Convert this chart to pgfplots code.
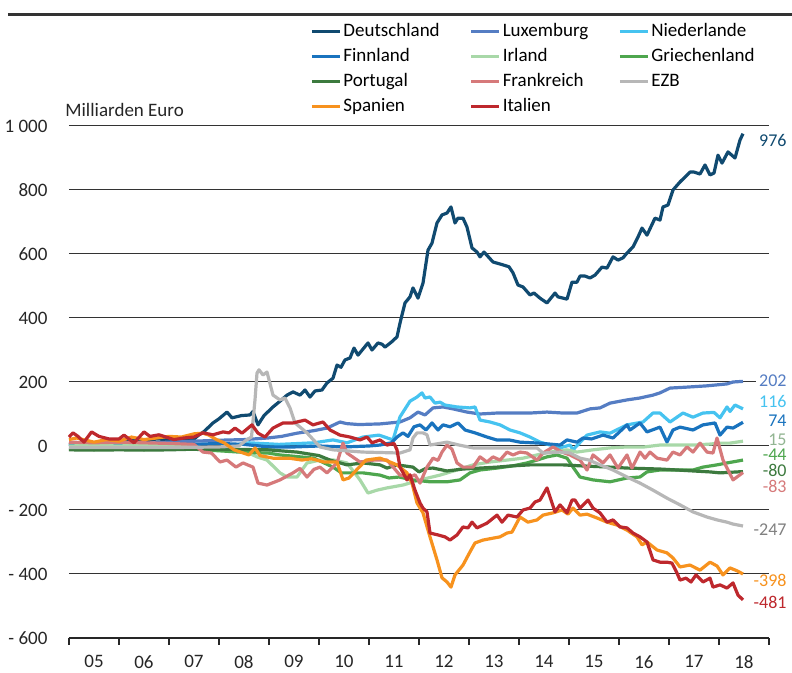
\documentclass[border=0pt]{standalone}
\usepackage{pgfplots}
\pgfplotsset{compat=1.18}
\usepackage{fontspec}
\setmainfont{Carlito}
\definecolor{cde}{RGB}{16,74,112}
\definecolor{clu}{RGB}{85,125,195}
\definecolor{cnl}{RGB}{70,195,240}
\definecolor{cfi}{RGB}{25,115,190}
\definecolor{cie}{RGB}{168,216,168}
\definecolor{cgr}{RGB}{78,166,78}
\definecolor{cpt}{RGB}{60,122,62}
\definecolor{cfr}{RGB}{214,121,122}
\definecolor{cez}{RGB}{183,183,183}
\definecolor{ces}{RGB}{247,146,30}
\definecolor{cit}{RGB}{190,40,45}
\begin{document}
\begin{tikzpicture}
\useasboundingbox (-34.5pt,-17.5pt) rectangle (361.5pt,319pt);
\begin{axis}[
  at={(0,0)}, anchor=south west,
  scale only axis, width=350pt, height=256pt,
  xmin=2005, xmax=2019, ymin=-600, ymax=1000,
  axis x line=bottom, axis y line=left,
  x axis line style={-, black!85, line width=0.6pt},
  y axis line style={draw=none},
  xtick={2005.5,2006.5,...,2018.5},
  xticklabels={05,06,07,08,09,10,11,12,13,14,15,16,17,18},
  major x tick style={draw=none},
  minor xtick={2005,2006,...,2019},
  minor x tick style={black!85, line width=0.6pt},
  minor tick length=3.5pt, tick align=outside,
  ytick={-600,-400,...,1000},
  yticklabels={- 600,- 400,- 200,0,200,400,600,800,1 000},
  ytick style={draw=none},
  ymajorgrids, grid style={black!80, line width=0.5pt},
  tick label style={font=\fontsize{9.5}{11}\selectfont, text=black!85},
  yticklabel style={xshift=-3pt},
  xticklabel style={yshift=-1pt},
  clip=false,
  legend columns=3,
  legend cell align=left,
  legend image code/.code={\draw[#1, line width=1.5pt] (0pt,0pt) -- (14pt,0pt);},
  legend style={at={(0.3357,1.218)}, anchor=north west, draw=none, fill=none,
    font=\fontsize{9.5}{11}\selectfont,
    /tikz/every even column/.append style={column sep=14pt},
    nodes={inner xsep=1pt, inner ysep=1.75pt, text height=7pt, text depth=2pt}},
  every axis plot/.append style={line width=1.6pt, line join=round},
]
\addplot[cde] coordinates {(2005.0,5)(2005.25,10)(2005.5,8)(2005.75,15)(2006.0,10)(2006.25,18)(2006.5,15)(2006.75,22)(2007.0,20)(2007.25,22)(2007.48,19)(2007.6,35)(2007.7,45)(2007.88,72)(2008.0,85)(2008.16,106)(2008.26,88)(2008.45,95)(2008.62,97)(2008.68,108)(2008.78,66)(2008.9,95)(2009.08,122)(2009.22,140)(2009.36,159)(2009.48,169)(2009.62,159)(2009.72,175)(2009.82,153)(2009.92,172)(2010.06,175)(2010.16,197)(2010.28,212)(2010.36,253)(2010.44,246)(2010.52,269)(2010.62,275)(2010.7,306)(2010.78,284)(2010.98,322)(2011.06,300)(2011.18,322)(2011.26,318)(2011.32,309)(2011.45,325)(2011.56,341)(2011.62,384)(2011.72,447)(2011.82,466)(2011.88,494)(2011.98,462)(2012.08,509)(2012.18,612)(2012.26,634)(2012.36,697)(2012.46,722)(2012.56,728)(2012.64,747)(2012.72,697)(2012.78,712)(2012.88,712)(2012.96,684)(2013.06,619)(2013.16,606)(2013.22,591)(2013.3,606)(2013.48,575)(2013.68,566)(2013.8,560)(2013.88,541)(2013.98,503)(2014.08,497)(2014.22,472)(2014.3,478)(2014.42,462)(2014.56,447)(2014.72,478)(2014.78,466)(2014.96,459)(2015.06,512)(2015.16,512)(2015.22,531)(2015.32,531)(2015.42,525)(2015.52,534)(2015.66,559)(2015.76,556)(2015.88,591)(2015.98,581)(2016.08,588)(2016.16,603)(2016.28,622)(2016.38,653)(2016.46,681)(2016.56,659)(2016.72,712)(2016.82,706)(2016.88,747)(2016.98,753)(2017.08,800)(2017.22,825)(2017.42,856)(2017.5,856)(2017.62,850)(2017.72,878)(2017.82,847)(2017.9,853)(2017.98,909)(2018.06,884)(2018.18,919)(2018.32,900)(2018.42,956)(2018.48,976)};
\addlegendentry{Deutschland}
\addplot[clu] coordinates {(2005.0,5)(2005.5,8)(2006.0,10)(2006.5,8)(2007.0,12)(2007.5,15)(2008.0,18)(2008.5,20)(2008.98,25)(2009.25,30)(2009.56,40)(2009.9,48)(2010.16,56)(2010.42,75)(2010.55,70)(2010.8,67)(2011.22,69)(2011.62,75)(2011.82,88)(2011.98,106)(2012.12,97)(2012.28,119)(2012.48,122)(2012.68,116)(2012.96,106)(2013.22,100)(2013.56,103)(2013.88,103)(2014.22,103)(2014.56,106)(2014.88,103)(2015.16,103)(2015.42,116)(2015.62,119)(2015.82,134)(2016.16,144)(2016.42,150)(2016.68,159)(2016.82,166)(2017.02,181)(2017.36,184)(2017.76,188)(2017.96,191)(2018.16,194)(2018.28,200)(2018.48,202)};
\addlegendentry{Luxemburg}
\addplot[cnl] coordinates {(2005.0,0)(2005.5,3)(2006.0,-2)(2006.5,2)(2007.0,0)(2007.4,-5)(2007.7,-12)(2008.0,-5)(2008.6,10)(2009.2,5)(2009.9,10)(2010.28,19)(2010.56,10)(2010.88,28)(2011.2,34)(2011.48,19)(2011.62,91)(2011.82,140)(2011.96,153)(2012.06,166)(2012.12,150)(2012.22,153)(2012.32,134)(2012.42,137)(2012.52,128)(2012.76,122)(2013.02,119)(2013.12,122)(2013.22,81)(2013.42,75)(2013.62,66)(2013.82,50)(2014.02,41)(2014.22,28)(2014.42,12)(2014.62,3)(2014.82,-6)(2015.02,3)(2015.08,-12)(2015.36,34)(2015.62,44)(2015.82,40)(2016.16,66)(2016.48,75)(2016.68,103)(2016.82,103)(2017.02,75)(2017.28,103)(2017.48,90)(2017.68,103)(2017.9,105)(2018.02,88)(2018.16,122)(2018.22,108)(2018.32,128)(2018.48,116)};
\addlegendentry{Niederlande}
\addplot[cfi] coordinates {(2005.0,5)(2005.5,3)(2006.0,8)(2006.5,5)(2007.0,3)(2007.5,5)(2008.0,8)(2008.5,5)(2009.0,-3)(2009.5,-3)(2010.0,0)(2010.5,-3)(2011.0,0)(2011.22,3)(2011.45,10)(2011.56,28)(2011.68,41)(2011.78,30)(2011.9,60)(2012.02,66)(2012.14,50)(2012.26,72)(2012.38,50)(2012.48,66)(2012.62,60)(2012.78,72)(2012.92,50)(2013.12,41)(2013.36,28)(2013.55,19)(2013.8,19)(2014.02,12)(2014.4,9)(2014.82,3)(2014.96,19)(2015.16,12)(2015.28,25)(2015.45,22)(2015.68,34)(2015.88,25)(2016.16,66)(2016.22,50)(2016.42,72)(2016.56,44)(2016.82,59)(2016.96,12)(2017.08,50)(2017.22,59)(2017.48,50)(2017.68,66)(2017.92,72)(2018.02,34)(2018.16,59)(2018.28,56)(2018.48,74)};
\addlegendentry{Finnland}
\addplot[cie] coordinates {(2005.0,0)(2005.5,2)(2006.0,0)(2006.5,3)(2007.0,0)(2007.5,-3)(2007.8,-10)(2008.2,-5)(2008.5,-15)(2008.76,-34)(2008.96,-44)(2009.22,-84)(2009.36,-97)(2009.56,-97)(2009.76,-53)(2010.02,-44)(2010.3,-44)(2010.56,-53)(2010.82,-106)(2010.98,-147)(2011.16,-138)(2011.36,-131)(2011.68,-122)(2012.02,-106)(2012.42,-91)(2012.76,-75)(2013.08,-59)(2013.42,-50)(2013.76,-44)(2014.08,-38)(2014.36,-28)(2014.62,-19)(2014.96,-12)(2015.16,-19)(2015.48,-12)(2015.82,-6)(2016.16,-3)(2016.5,-3)(2016.82,3)(2017.2,3)(2017.5,3)(2017.82,6)(2018.02,9)(2018.22,9)(2018.48,15)};
\addlegendentry{Irland}
\addplot[cgr] coordinates {(2005.0,-8)(2005.5,-10)(2006.0,-8)(2006.5,-10)(2007.0,-8)(2007.5,-10)(2008.0,-15)(2008.5,-20)(2008.98,-22)(2009.22,-28)(2009.9,-38)(2010.28,-66)(2010.45,-84)(2010.88,-84)(2011.22,-91)(2011.4,-100)(2011.6,-97)(2011.88,-106)(2012.22,-112)(2012.56,-112)(2012.82,-106)(2013.02,-84)(2013.22,-75)(2013.56,-69)(2013.88,-62)(2014.16,-53)(2014.36,-44)(2014.56,-34)(2014.76,-28)(2014.96,-38)(2015.08,-66)(2015.22,-97)(2015.48,-106)(2015.82,-112)(2016.16,-100)(2016.42,-97)(2016.56,-81)(2016.82,-75)(2017.16,-75)(2017.48,-75)(2017.68,-66)(2017.96,-59)(2018.16,-53)(2018.48,-44)};
\addlegendentry{Griechenland}
\addplot[cpt] coordinates {(2005.0,-12)(2005.5,-13)(2006.0,-12)(2006.5,-13)(2007.0,-12)(2007.5,-10)(2008.0,-10)(2008.98,-12)(2009.56,-19)(2010.0,-30)(2010.22,-44)(2010.56,-59)(2010.88,-53)(2011.22,-59)(2011.36,-69)(2011.56,-59)(2011.88,-66)(2012.0,-81)(2012.14,-70)(2012.28,-69)(2012.56,-78)(2012.88,-72)(2013.22,-69)(2013.56,-66)(2013.88,-62)(2014.22,-59)(2014.88,-59)(2015.22,-62)(2015.82,-66)(2016.16,-69)(2016.82,-72)(2017.16,-75)(2017.48,-78)(2017.82,-81)(2018.02,-84)(2018.48,-80)};
\addlegendentry{Portugal}
\addplot[cfr] coordinates {(2005.0,12)(2005.5,10)(2006.0,12)(2006.5,10)(2007.0,8)(2007.5,5)(2007.68,-19)(2007.85,-22)(2008.02,-50)(2008.16,-44)(2008.34,-66)(2008.48,-53)(2008.68,-66)(2008.78,-116)(2008.96,-122)(2009.22,-106)(2009.48,-84)(2009.62,-70)(2009.76,-97)(2009.9,-73)(2010.02,-66)(2010.16,-84)(2010.36,-53)(2010.48,9)(2010.56,-22)(2010.82,-50)(2011.1,-44)(2011.36,-44)(2011.62,-91)(2011.82,-97)(2011.92,-90)(2012.02,-116)(2012.16,-66)(2012.28,-38)(2012.38,-45)(2012.46,-19)(2012.56,3)(2012.66,-10)(2012.76,-53)(2012.88,-66)(2013.08,-66)(2013.22,-34)(2013.36,-50)(2013.48,-34)(2013.62,-44)(2013.76,-19)(2013.88,-28)(2014.02,-19)(2014.16,-22)(2014.36,-44)(2014.48,-22)(2014.68,-3)(2014.86,-19)(2015.02,-28)(2015.22,-44)(2015.36,-75)(2015.48,-28)(2015.68,-53)(2015.82,-28)(2015.98,-69)(2016.16,-28)(2016.26,-69)(2016.42,-19)(2016.52,-38)(2016.62,-19)(2016.76,-38)(2016.96,-44)(2017.08,-19)(2017.22,-28)(2017.36,-3)(2017.48,-19)(2017.62,9)(2017.76,-19)(2017.88,-22)(2017.96,25)(2018.08,-44)(2018.28,-106)(2018.48,-83)};
\addlegendentry{Frankreich}
\addplot[cez] coordinates {(2005.0,-5)(2006.0,-5)(2007.0,-5)(2008.0,-3)(2008.4,0)(2008.55,19)(2008.65,28)(2008.72,144)(2008.76,228)(2008.8,238)(2008.88,222)(2008.96,231)(2009.08,159)(2009.22,144)(2009.32,150)(2009.42,119)(2009.52,72)(2009.76,41)(2010.02,-3)(2010.28,-12)(2010.88,-19)(2011.62,-22)(2011.82,-12)(2011.88,25)(2011.96,41)(2012.08,41)(2012.16,35)(2012.22,3)(2012.56,12)(2012.8,3)(2013.08,-6)(2014.36,-6)(2014.48,-22)(2014.82,-19)(2015.02,-22)(2015.22,-38)(2015.4,-44)(2015.62,-59)(2015.88,-75)(2016.16,-97)(2016.42,-116)(2016.68,-138)(2016.96,-163)(2017.22,-184)(2017.48,-206)(2017.76,-222)(2017.96,-231)(2018.16,-238)(2018.28,-244)(2018.48,-250)};
\addlegendentry{EZB}
\addplot[ces] coordinates {(2005.0,20)(2005.15,25)(2005.5,12)(2005.75,20)(2006.0,15)(2006.25,28)(2006.5,20)(2006.75,25)(2007.0,30)(2007.25,28)(2007.5,38)(2007.68,40)(2007.8,34)(2007.95,20)(2008.1,10)(2008.3,-12)(2008.45,-20)(2008.6,-28)(2008.72,-6)(2008.82,-30)(2009.08,-38)(2009.4,-38)(2009.66,-44)(2009.85,-40)(2010.1,-50)(2010.36,-50)(2010.48,-106)(2010.6,-100)(2010.75,-75)(2010.94,-44)(2011.22,-38)(2011.42,-50)(2011.56,-59)(2011.76,-84)(2011.86,-116)(2011.96,-178)(2012.08,-209)(2012.22,-284)(2012.36,-356)(2012.46,-412)(2012.56,-425)(2012.64,-441)(2012.72,-403)(2012.88,-372)(2013.02,-331)(2013.12,-303)(2013.28,-294)(2013.48,-288)(2013.62,-284)(2013.76,-272)(2013.86,-269)(2014.02,-222)(2014.18,-238)(2014.36,-231)(2014.48,-216)(2014.68,-209)(2014.86,-200)(2014.98,-213)(2015.08,-194)(2015.22,-216)(2015.36,-213)(2015.56,-225)(2015.76,-238)(2015.96,-247)(2016.16,-263)(2016.36,-284)(2016.46,-309)(2016.56,-300)(2016.76,-325)(2016.96,-334)(2017.08,-350)(2017.22,-378)(2017.42,-372)(2017.62,-388)(2017.82,-363)(2017.96,-375)(2018.08,-403)(2018.22,-381)(2018.36,-390)(2018.48,-400)};
\addlegendentry{Spanien}
\addplot[cit] coordinates {(2005.0,28)(2005.08,41)(2005.18,30)(2005.3,12)(2005.45,44)(2005.6,30)(2005.8,22)(2006.0,22)(2006.1,34)(2006.3,10)(2006.5,44)(2006.62,30)(2006.8,35)(2007.1,20)(2007.3,25)(2007.5,28)(2007.68,41)(2007.88,35)(2008.08,44)(2008.2,41)(2008.32,56)(2008.46,40)(2008.66,66)(2008.78,40)(2008.92,28)(2009.08,56)(2009.28,72)(2009.48,72)(2009.72,81)(2009.88,66)(2010.08,75)(2010.22,50)(2010.42,34)(2010.62,28)(2010.82,19)(2010.96,28)(2011.06,10)(2011.22,19)(2011.36,3)(2011.5,8)(2011.56,-12)(2011.62,-66)(2011.76,-106)(2011.82,-90)(2011.92,-138)(2012.02,-178)(2012.08,-194)(2012.16,-206)(2012.22,-272)(2012.38,-278)(2012.52,-284)(2012.62,-294)(2012.76,-278)(2012.88,-253)(2012.98,-256)(2013.06,-238)(2013.16,-256)(2013.36,-241)(2013.56,-216)(2013.66,-238)(2013.78,-216)(2013.96,-222)(2014.08,-200)(2014.22,-194)(2014.32,-175)(2014.42,-169)(2014.56,-131)(2014.72,-206)(2014.82,-184)(2014.96,-209)(2015.06,-169)(2015.12,-169)(2015.22,-194)(2015.38,-169)(2015.48,-194)(2015.62,-209)(2015.76,-238)(2015.88,-231)(2016.02,-253)(2016.16,-256)(2016.28,-272)(2016.42,-284)(2016.56,-300)(2016.68,-356)(2016.82,-363)(2016.96,-363)(2017.06,-366)(2017.16,-397)(2017.22,-419)(2017.34,-413)(2017.44,-425)(2017.54,-403)(2017.68,-425)(2017.82,-413)(2017.88,-441)(2018.02,-434)(2018.16,-444)(2018.28,-428)(2018.38,-466)(2018.48,-481)};
\addlegendentry{Italien}
\begin{scope}[every node/.style={anchor=east, fill=white, inner xsep=1.5pt, inner ysep=0pt, text height=6pt, text depth=0pt, font=\fontsize{9}{10}\selectfont}]
\node[text=cde] at (axis cs:2019.42,956) {976};
\node[text=clu] at (axis cs:2019.42,206) {202};
\node[text=cnl] at (axis cs:2019.42,140) {116};
\node[text=cfi] at (axis cs:2019.42,81) {74};
\node[text=cie!80!black!90] at (axis cs:2019.42,21) {15};
\node[text=cgr] at (axis cs:2019.42,-26) {-44};
\node[text=cpt] at (axis cs:2019.42,-76) {-80};
\node[text=cfr] at (axis cs:2019.42,-126) {-83};
\node[text=black!50] at (axis cs:2019.42,-262) {-247};
\node[text=ces] at (axis cs:2019.42,-419) {-398};
\node[text=cit] at (axis cs:2019.42,-490) {-481};
\end{scope}
\node[anchor=west, inner sep=0pt, font=\fontsize{9.5}{11}\selectfont, text=black!85] at ([xshift=-2pt,yshift=8pt]axis description cs:0,1) {Milliarden Euro};
\end{axis}
\draw[line width=1.5pt, black!80] (-30.5pt,311.5pt) -- (361.5pt,311.5pt);
\end{tikzpicture}
\end{document}
